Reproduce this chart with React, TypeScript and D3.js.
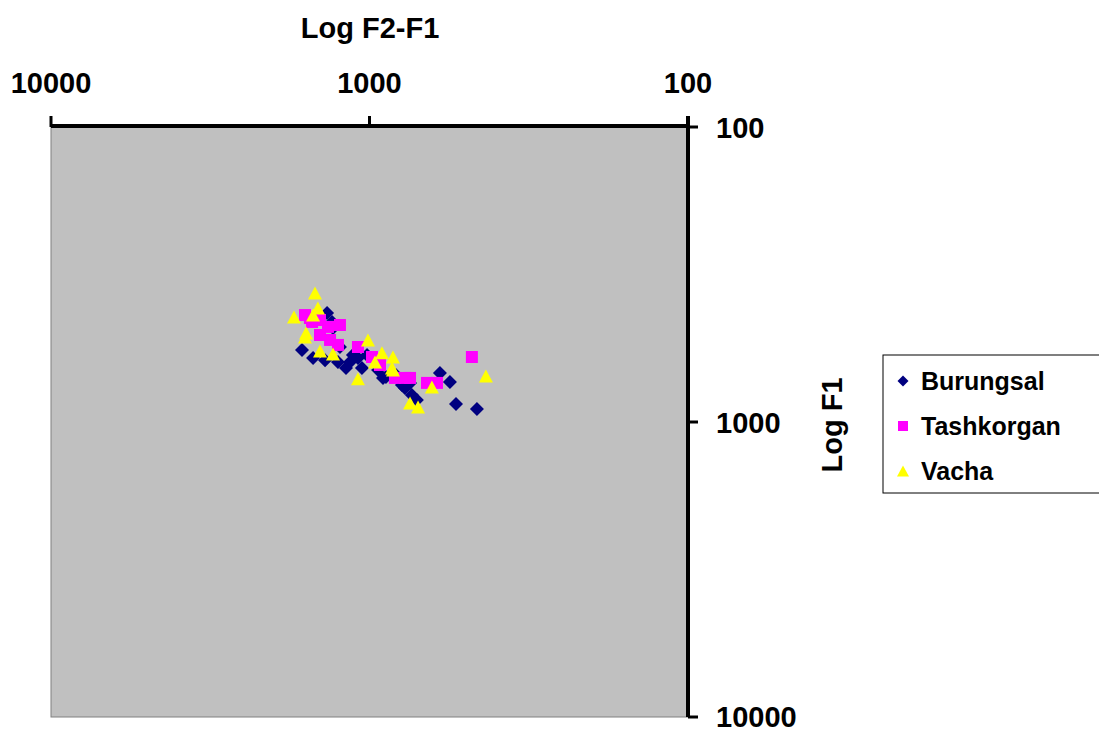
import React from "react";
import * as d3 from "d3";

const xTicks = [10000, 1000, 100];
const yTicks = [100, 1000, 10000];

const burungsal: [number, number][] = [
  [1629, 570], [1504, 607], [1379, 617], [1256, 626], [1359, 427], [1311, 458],
  [1302, 480], [1238, 557], [1185, 656], [1151, 626], [1127, 593], [1087, 607],
  [1056, 656], [1018, 593], [940, 666], [907, 709], [888, 704], [826, 693],
  [791, 749], [774, 767], [736, 810], [710, 842], [601, 682], [559, 732],
  [535, 869], [460, 903], [746, 737],
];

const tashkorgan: [number, number][] = [
  [1594, 434], [1515, 458], [1430, 451], [1350, 476], [1238, 469], [1430, 507],
  [1330, 527], [1256, 548], [1087, 557], [982, 602], [927, 641], [832, 709],
  [774, 709], [746, 709], [660, 737], [614, 737], [477, 602], [1538, 444],
];

const vacha: [number, number][] = [
  [1483, 365], [1452, 411], [1504, 434], [1726, 441], [1582, 499], [1594, 515],
  [1430, 574], [1302, 588], [1011, 527], [914, 583], [844, 602], [961, 626],
  [850, 656], [1087, 714], [844, 666], [637, 761], [746, 862], [704, 889],
  [431, 698],
];

const seriesNames = ["Burungsal", "Tashkorgan", "Vacha"];
const seriesColors = ["#000080", "#FF00FF", "#FFFF00"];

const W = 1099, H = 732;
const L = 51, R = 688, T = 127, B = 717;

const x = d3.scaleLog().domain([10000, 100]).range([L, R]);
const y = d3.scaleLog().domain([100, 10000]).range([T, B]);

function diamond(r: number) {
  const p = d3.path();
  p.moveTo(0, -r); p.lineTo(r, 0); p.lineTo(0, r); p.lineTo(-r, 0); p.closePath();
  return p.toString();
}
function square(s: number) {
  const p = d3.path();
  p.rect(-s / 2, -s / 2, s, s);
  return p.toString();
}
function triangle(w: number, h: number) {
  const p = d3.path();
  p.moveTo(0, -h / 2); p.lineTo(w / 2, h / 2); p.lineTo(-w / 2, h / 2); p.closePath();
  return p.toString();
}

const paths = [diamond(7), square(12), triangle(14, 13)];
const legendPaths = [diamond(5.5), square(10), triangle(12, 11)];

const font = "Arial, 'Liberation Sans', sans-serif";
const fs = 29;

export default function App() {
  const all = [burungsal, tashkorgan, vacha];
  return (
    <svg width={W} height={H} style={{ position: "absolute", left: 0, top: 0, background: "#fff" }}>
      <rect x={L} y={T} width={R - L} height={B - T} fill="#C0C0C0" stroke="#808080" strokeWidth={1} />
      {all.map((data, si) => (
        <g key={si}>
          {data.map((d, i) => (
            <path key={i} d={paths[si]} transform={`translate(${x(d[0])},${y(d[1])})`} fill={seriesColors[si]} />
          ))}
        </g>
      ))}
      {/* top axis */}
      <line x1={L} x2={R} y1={T - 1} y2={T - 1} stroke="#000" strokeWidth={4} />
      {xTicks.map((t) => (
        <g key={t}>
          <line x1={x(t)} x2={x(t)} y1={T - 11} y2={T} stroke="#000" strokeWidth={3} />
          <text x={x(t)} y={93} textAnchor="middle" fontFamily={font} fontWeight="bold" fontSize={fs}>{t}</text>
        </g>
      ))}
      <text x={370} y={38} textAnchor="middle" fontFamily={font} fontWeight="bold" fontSize={fs}>Log F2-F1</text>
      {/* right axis */}
      <line x1={R} x2={R} y1={T - 11} y2={B} stroke="#000" strokeWidth={4} />
      {yTicks.map((t) => (
        <g key={t}>
          <line x1={R} x2={R + 10} y1={y(t)} y2={y(t)} stroke="#000" strokeWidth={3} />
          <text x={716} y={Math.min(y(t) + 11, 727)} fontFamily={font} fontWeight="bold" fontSize={fs}>{t}</text>
        </g>
      ))}
      <text transform="translate(842,425) rotate(-90)" textAnchor="middle" fontFamily={font} fontWeight="bold" fontSize={fs}>Log F1</text>
      {/* legend */}
      <rect x={883} y={355} width={230} height={138} fill="#fff" stroke="#000" strokeWidth={1} />
      {seriesNames.map((n, i) => (
        <g key={n}>
          <path d={legendPaths[i]} transform={`translate(903,${381 + i * 45})`} fill={seriesColors[i]} />
          <text x={921} y={390 + i * 45} fontFamily={font} fontWeight="bold" fontSize={25}>{n}</text>
        </g>
      ))}
    </svg>
  );
}
